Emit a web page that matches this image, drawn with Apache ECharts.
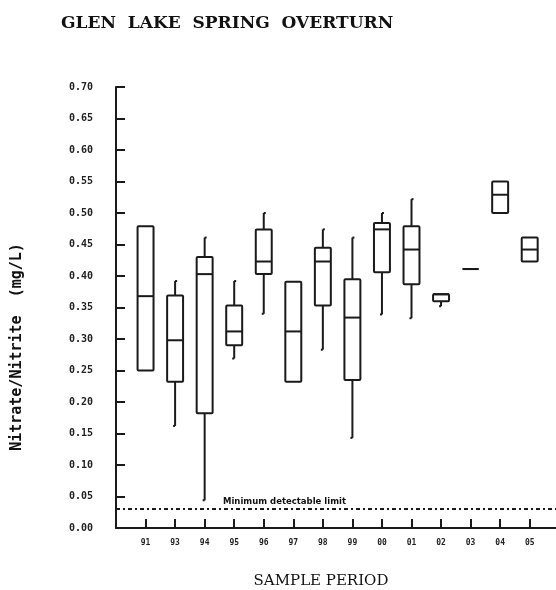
<!DOCTYPE html>
<html>
<head>
<meta charset="utf-8">
<script src="https://cdn.jsdelivr.net/npm/echarts@6/dist/echarts.min.js"></script>
<style>
  html, body { margin: 0; padding: 0; background: #fff; }
  #chart { width: 556px; height: 590px; }
</style>
</head>
<body>
<div id="chart"></div>
<script>
// Sample periods (year of spring overturn sampling)
const periods = ['91', '93', '94', '95', '96', '97', '98', '99', '00', '01', '02', '03', '04', '05'];

// Box-plot statistics, nitrate/nitrite in mg/L
const lows    = [0.250, 0.162, 0.044, 0.269, 0.340, 0.232, 0.283, 0.143, 0.339, 0.333, 0.352, 0.411, 0.500, 0.423];
const q1s     = [0.250, 0.232, 0.182, 0.290, 0.403, 0.232, 0.353, 0.235, 0.406, 0.387, 0.360, 0.411, 0.500, 0.423];
const medians = [0.368, 0.298, 0.403, 0.312, 0.423, 0.312, 0.423, 0.334, 0.474, 0.442, 0.371, 0.411, 0.529, 0.442];
const q3s     = [0.479, 0.369, 0.430, 0.353, 0.474, 0.391, 0.445, 0.395, 0.484, 0.479, 0.371, 0.411, 0.550, 0.461];
const highs   = [0.479, 0.392, 0.461, 0.392, 0.500, 0.391, 0.474, 0.461, 0.500, 0.522, 0.371, 0.411, 0.550, 0.461];

// Minimum detectable limit
const detectionLimit = 0.025;

const yTicks = { min: 0, max: 0.70, step: 0.05 };

const boxData = periods.map((p, i) => [i + 1, lows[i], q1s[i], medians[i], q3s[i], highs[i]]);
const tickPositions = periods.map((p, i) => i + 1);

const ink = '#1a1a1a';
const chart = echarts.init(document.getElementById('chart'), null, { renderer: 'canvas' });

function renderBox(params, api) {
  const x = api.value(0);
  const lo = api.value(1), q1 = api.value(2), med = api.value(3), q3 = api.value(4), hi = api.value(5);
  const half = api.size([1, 0])[0] * 0.27;
  const pLo = api.coord([x, lo]);
  const pQ1 = api.coord([x, q1]);
  const pMed = api.coord([x, med]);
  const pQ3 = api.coord([x, q3]);
  const pHi = api.coord([x, hi]);
  const cx = pQ1[0];
  const style = { stroke: ink, lineWidth: 2, fill: null };
  const children = [];
  if (hi > q3) {
    children.push({ type: 'line', shape: { x1: cx, y1: pQ3[1], x2: cx, y2: pHi[1] }, style });
    children.push({ type: 'line', shape: { x1: cx, y1: pHi[1], x2: cx + 2, y2: pHi[1] }, style });
  }
  if (lo < q1) {
    children.push({ type: 'line', shape: { x1: cx, y1: pQ1[1], x2: cx, y2: pLo[1] }, style });
    children.push({ type: 'line', shape: { x1: cx - 2, y1: pLo[1], x2: cx, y2: pLo[1] }, style });
  }
  children.push({
    type: 'rect',
    shape: { x: cx - half, y: pQ3[1], width: half * 2, height: pQ1[1] - pQ3[1], r: 1 },
    style: { stroke: ink, lineWidth: 2, fill: 'rgba(255,255,255,0)' }
  });
  children.push({ type: 'line', shape: { x1: cx - half, y1: pMed[1], x2: cx + half, y2: pMed[1] }, style });
  return { type: 'group', children };
}

const option = {
  animation: false,
  backgroundColor: '#fff',
  title: {
    text: 'GLEN  LAKE  SPRING  OVERTURN',
    left: 56,
    top: 10,
    textStyle: { fontFamily: 'DejaVu Serif', fontWeight: 'bold', fontSize: 17, color: '#111' }
  },
  grid: { left: 116, right: 0, top: 87, bottom: 62, containLabel: false },
  xAxis: {
    type: 'value',
    min: 0,
    max: 14.89,
    splitLine: { show: false },
    axisLine: { show: true, onZero: false, lineStyle: { color: ink, width: 2 } },
    axisTick: { show: true, inside: true, length: 9, lineStyle: { color: ink, width: 2 }, customValues: tickPositions },
    axisLabel: {
      customValues: tickPositions,
      formatter: v => periods[Math.round(v) - 1] || '',
      margin: 11,
      fontFamily: 'DejaVu Sans Mono',
      fontWeight: 'bold',
      fontSize: 8,
      color: '#222'
    }
  },
  yAxis: {
    type: 'value',
    min: yTicks.min,
    max: yTicks.max,
    interval: yTicks.step,
    splitLine: { show: false },
    axisLine: { show: true, lineStyle: { color: ink, width: 2 } },
    axisTick: { show: true, inside: true, length: 9, lineStyle: { color: ink, width: 2 } },
    axisLabel: {
      formatter: v => v.toFixed(2),
      margin: 23,
      fontFamily: 'DejaVu Sans Mono',
      fontWeight: 'bold',
      fontSize: 10,
      color: '#222'
    }
  },
  series: [
    {
      type: 'custom',
      name: 'Nitrate/Nitrite',
      renderItem: renderBox,
      encode: { x: 0, y: [1, 2, 3, 4, 5] },
      data: boxData,
      clip: false,
      markLine: {
        silent: true,
        symbol: 'none',
        lineStyle: { color: ink, width: 2, type: [4, 3, 2, 3] },
        label: {
          show: true,
          position: 'insideStartTop',
          distance: [107, 3],
          formatter: 'Minimum detectable limit',
          fontFamily: 'DejaVu Sans',
          fontWeight: 'bold',
          fontSize: 8.5,
          color: '#111'
        },
        data: [{ yAxis: detectionLimit }]
      }
    }
  ],
  graphic: [
    {
      type: 'text',
      x: 17,
      y: 347,
      rotation: Math.PI / 2,
      style: {
        text: 'Nitrate/Nitrite  (mg/L)',
        fontFamily: 'DejaVu Sans Mono',
        fontWeight: 'bold',
        fontSize: 15,
        fill: '#111',
        align: 'center',
        verticalAlign: 'middle'
      }
    },
    {
      type: 'text',
      x: 321,
      y: 581,
      style: {
        text: 'SAMPLE PERIOD',
        fontFamily: 'DejaVu Serif',
        fontSize: 15,
        fill: '#111',
        align: 'center',
        verticalAlign: 'middle'
      }
    }
  ]
};

chart.setOption(option);
</script>
</body>
</html>
